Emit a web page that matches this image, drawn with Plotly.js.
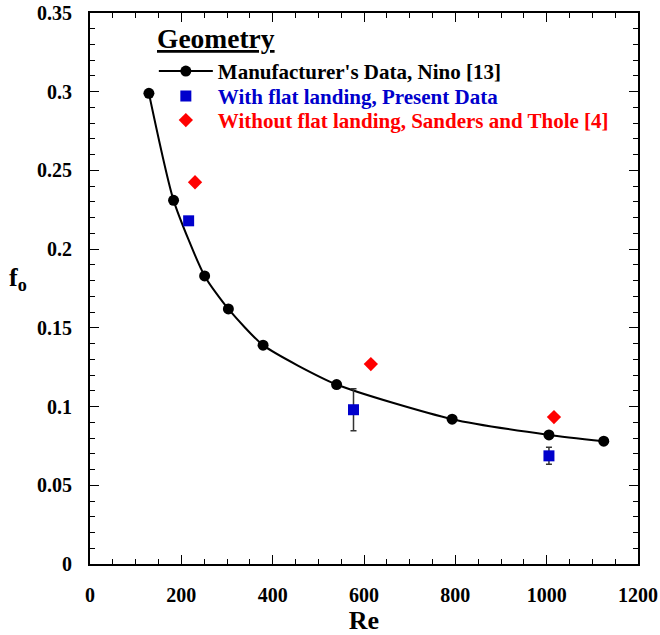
<!DOCTYPE html>
<html>
<head>
<meta charset="utf-8">
<script src="https://cdn.plot.ly/plotly-3.0.1.min.js"></script>
<style>html,body{margin:0;padding:0;background:#fff;}#chart{width:660px;height:635px;}</style>
</head>
<body>
<div id="chart"></div>
<script>
// Manufacturer's Data, Nino [13]
var manuRe = [129, 183, 251, 303, 379, 540, 793, 1005, 1125];
var manuF  = [0.299, 0.231, 0.183, 0.162, 0.139, 0.114, 0.092, 0.082, 0.078];
// With flat landing, Present Data
var flatRe  = [216, 577, 1005];
var flatF   = [0.218, 0.098, 0.0687];
var flatErr = [0, 0.0133, 0.0054];
// Without flat landing, Sanders and Thole [4]
var noFlatRe = [230, 615, 1016];
var noFlatF  = [0.2425, 0.127, 0.0933];

var xTicks = [0, 200, 400, 600, 800, 1000, 1200];
var yTicks = [0, 0.05, 0.1, 0.15, 0.2, 0.25, 0.3, 0.35];

var serif = "Liberation Serif";
var blue = "#0000cc", red = "#ff0000";

var traces = [
  {x: manuRe, y: manuF, mode: "lines+markers", type: "scatter", legend: "legend",
   name: "Manufacturer's Data, Nino [13]",
   line: {color: "#000", width: 2, shape: "spline", smoothing: 0.6},
   marker: {symbol: "circle", size: 11, color: "#000"}},
  {x: flatRe, y: flatF, mode: "markers", type: "scatter", legend: "legend2",
   name: '<span style="color:' + blue + '">With flat landing, Present Data</span>',
   marker: {symbol: "square", size: 11, color: blue},
   error_y: {type: "data", array: flatErr, visible: true, color: "#333", thickness: 1.5, width: 3}},
  {x: noFlatRe, y: noFlatF, mode: "markers", type: "scatter", legend: "legend3",
   name: '<span style="color:' + red + '">Without flat landing, Sanders and Thole [4]</span>',
   marker: {symbol: "diamond", size: 11, color: red}}
];

var axisCommon = {
  showline: true, linecolor: "#000", linewidth: 2, mirror: "allticks",
  ticks: "inside", ticklen: 9, tickwidth: 1, tickcolor: "#000",
  showgrid: false, zeroline: false,
  tickfont: {family: serif, size: 20, color: "#000", weight: "bold"}
};

function leg(yc) {
  return {
    x: 0.1165, y: yc, xanchor: "left", yanchor: "middle",
    bgcolor: "rgba(0,0,0,0)", borderwidth: 0, itemwidth: 54,
    font: {family: serif, size: 21, color: "#000", weight: "bold"}
  };
}

var layout = {
  width: 660, height: 635,
  margin: {l: 90, r: 22, t: 13, b: 71},
  paper_bgcolor: "#fff", plot_bgcolor: "#fff",
  showlegend: true,
  legend: leg(0.894),
  legend2: leg(0.8486),
  legend3: leg(0.805),
  xaxis: Object.assign({}, axisCommon, {
    range: [0, 1200], tickvals: xTicks, ticklabelstandoff: 12,
    minor: {ticks: "inside", dtick: 50, ticklen: 5, tickwidth: 1, tickcolor: "#000"},
    title: {text: "Re", font: {family: serif, size: 26, color: "#000", weight: "bold"}, standoff: 8}
  }),
  yaxis: Object.assign({}, axisCommon, {
    range: [0, 0.35], tickvals: yTicks, ticklabelstandoff: 12,
    minor: {ticks: "inside", dtick: 0.01, ticklen: 5, tickwidth: 1, tickcolor: "#000"}
  }),
  annotations: [{
    text: "f<sub>o</sub>", xref: "paper", yref: "paper", x: -0.132, y: 0.517,
    xanchor: "center", yanchor: "middle", showarrow: false,
    font: {family: serif, size: 26, color: "#000", weight: "bold"}
  }, {
    text: "<u>Geometry</u>", xref: "paper", yref: "paper", x: 0.1195, y: 0.953,
    xanchor: "left", yanchor: "middle", showarrow: false,
    font: {family: serif, size: 27.5, color: "#000", weight: "bold"}
  }]
};

Plotly.newPlot("chart", traces, layout, {displayModeBar: false, staticPlot: true});
</script>
</body>
</html>
